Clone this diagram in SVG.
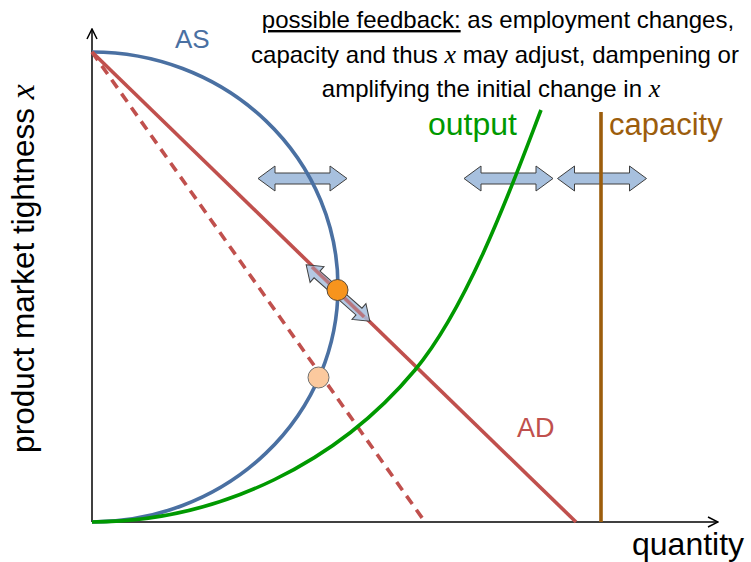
<svg xmlns="http://www.w3.org/2000/svg" width="751" height="562" viewBox="0 0 751 562">
<style>
text{font-family:"Liberation Sans",Arial,sans-serif;}
.math{font-family:"Liberation Serif","Times New Roman",serif;font-style:italic;}
.axis{stroke:#000;stroke-width:1.5;fill:none;}
.curve{fill:none;stroke-width:3.6;}
.dbl{fill:#A7C0DE;stroke:#3F3F3F;stroke-width:1;}
</style>
<defs>
<path id="harrow" d="M-44.5,0 L-27.5,-12.5 L-27.5,-5.5 L27.5,-5.5 L27.5,-12.5 L44.5,0 L27.5,12.5 L27.5,5.5 L-27.5,5.5 L-27.5,12.5 Z"/>
<marker id="ah" viewBox="0 0 12 12" refX="11" refY="6" markerWidth="12" markerHeight="12" markerUnits="userSpaceOnUse" orient="auto">
<path d="M1,1 L11,6 L1,11" fill="none" stroke="#000" stroke-width="1.5"/>
</marker>
</defs>
<rect width="751" height="562" fill="#fff"/>

<g id="axes">
<line class="axis" x1="92" y1="522" x2="92" y2="29" marker-end="url(#ah)"/>
<line class="axis" x1="92" y1="522" x2="718" y2="522" marker-end="url(#ah)"/>
</g>

<g id="shift-arrows">
<use href="#harrow" class="dbl" transform="translate(302.5,178.5)"/>
<use href="#harrow" class="dbl" transform="translate(508.5,178.5)"/>
<use href="#harrow" class="dbl" transform="translate(602,178.5)"/>
</g>

<g id="connectors">
<path id="AS-curve" class="curve" stroke="#4A70A2" stroke-width="4" d="M92,52 A246,235 0 0 1 92,522"/>
<path id="AD-dashed" class="curve" stroke="#C0504D" stroke-dasharray="10,7" d="M92,52 L425,522"/>
<path id="AD-curve" class="curve" stroke="#C0504D" d="M92,52 L576,522"/>
<path id="output-curve" class="curve" stroke="#009900" d="M92,522 C222,522 340,460 415,370 C470,304 516,175 541,110"/>
<path id="capacity-line" class="curve" stroke="#9C5D0C" d="M601,112 L601,522"/>
</g>

<g id="move-arrow">
<path class="dbl" fill-opacity="0.85" transform="translate(338,293) rotate(41.5)" d="M-42.5,0 L-28,-10.5 L-28,-4.5 L28,-4.5 L28,-10.5 L42.5,0 L28,10.5 L28,4.5 L-28,4.5 L-28,10.5 Z"/>
<path class="curve" stroke="#C0504D" stroke-opacity="0.6" d="M312,267 L364,317"/>
</g>

<g id="equilibria">
<circle id="eq-new" cx="337.5" cy="290" r="10.5" fill="#F7941D" stroke="#5A4A3A" stroke-width="1"/>
<circle id="eq-old" cx="318.5" cy="377.5" r="10.5" fill="#FBC99E" stroke="#6F6F6F" stroke-width="1"/>
</g>

<g id="labels">
<text x="175" y="48" font-size="26" fill="#4A70A2">AS</text>
<text x="517" y="437" font-size="27" fill="#C0504D">AD</text>
<text x="428" y="135" font-size="32" fill="#009900">output</text>
<text x="609" y="135" font-size="31" fill="#9C5D0C">capacity</text>
<text x="632" y="555" font-size="32" fill="#000">quantity</text>
<text transform="translate(34,268.5) rotate(-90)" text-anchor="middle" font-size="31.5" fill="#000">product market tightness <tspan class="math" font-size="34">x</tspan></text>
</g>

<g id="note" font-size="24" fill="#000" text-anchor="middle">
<text x="498" y="28"><tspan text-decoration="underline">possible feedback:</tspan> as employment changes,</text>
<text x="495" y="63">capacity and thus <tspan class="math" font-size="26">x</tspan> may adjust, dampening or</text>
<text x="491" y="97">amplifying the initial change in <tspan class="math" font-size="26">x</tspan></text>
</g>
</svg>
